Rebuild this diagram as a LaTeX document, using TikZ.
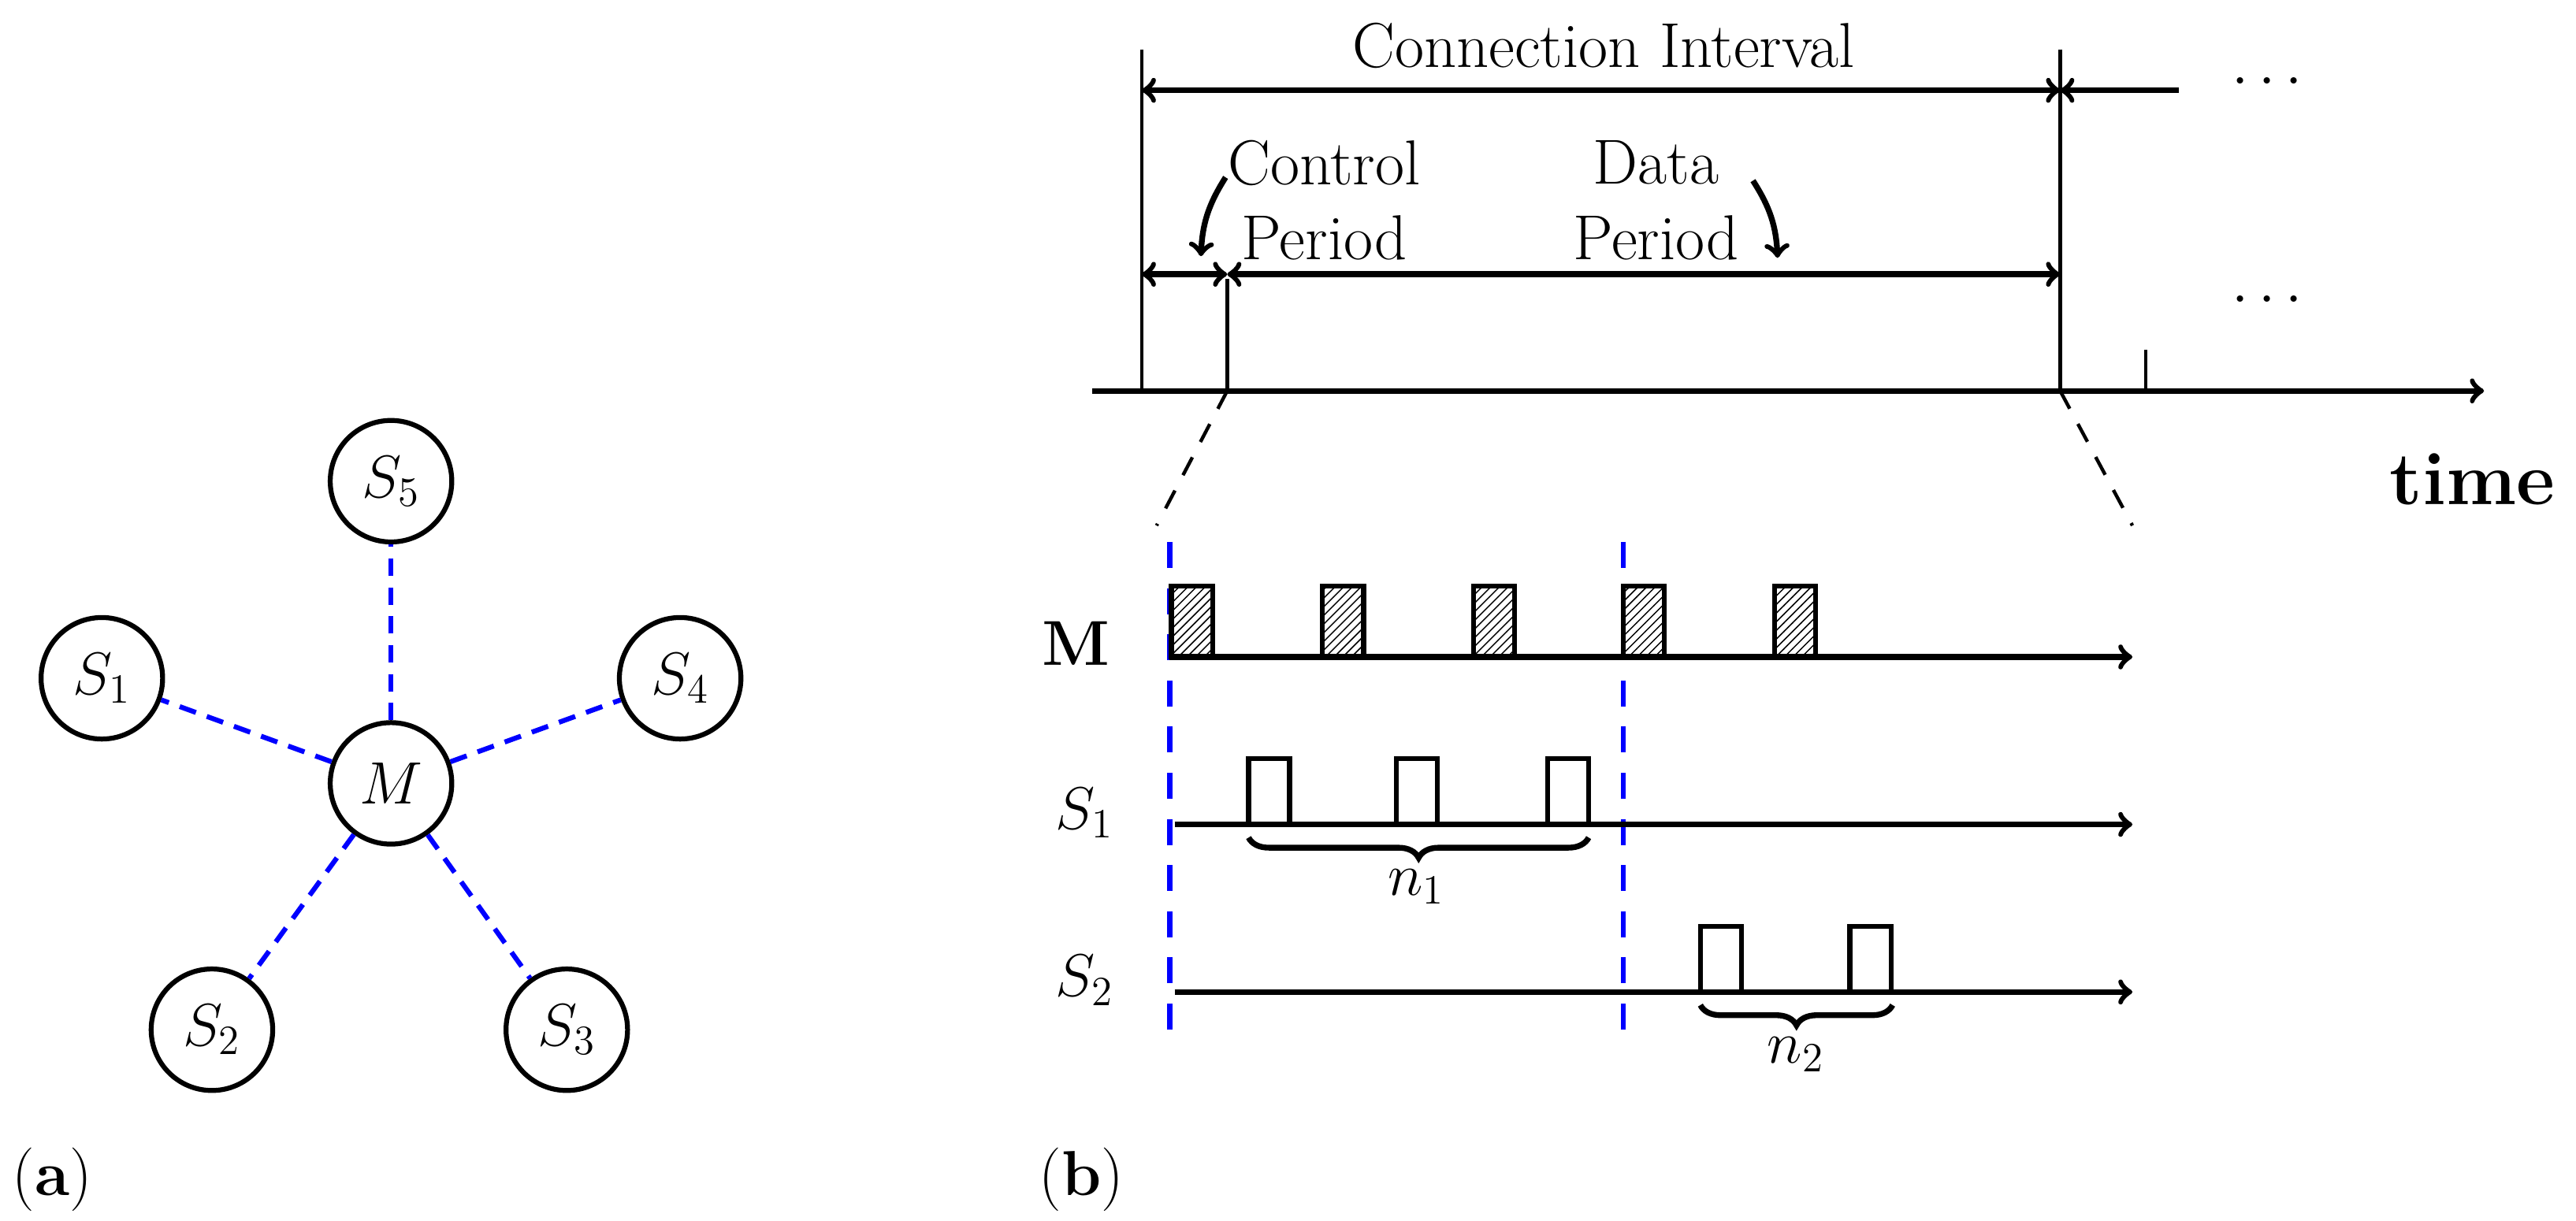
\documentclass[tikz,border=0pt]{standalone}
\usetikzlibrary{patterns,decorations.pathreplacing}
\begin{document}
\begin{tikzpicture}[x=0.02cm,y=-0.02cm,line width=2pt,
  every node/.style={font=\fontsize{22}{26}\selectfont},
  st/.style={circle,draw,line width=1.7pt,minimum size=1.48cm,inner sep=0pt},
  link/.style={blue,dashed,line width=1.7pt,dash pattern=on 6pt off 4pt},
  sep/.style={blue,dashed,line width=1.7pt,dash pattern=on 9pt off 7pt},
  pkt/.style={draw,line width=1.7pt},
  hpkt/.style={draw,line width=1.7pt,pattern=north east lines}]
\useasboundingbox (0,0) rectangle (1568,743);
% (a) star topology
\node[st] (M) at (238,477) {$M$};
\node[st] (S5) at (238,293) {$S_5$};
\node[st] (S1) at (62,413) {$S_1$};
\node[st] (S4) at (414,413) {$S_4$};
\node[st] (S2) at (129,627) {$S_2$};
\node[st] (S3) at (345,627) {$S_3$};
\foreach \s in {S1,S2,S3,S4,S5} \draw[link] (M) -- (\s);
\node[anchor=west] (la) at (0,718) {(\textbf{a})};
\node[anchor=west] (lb) at (625,718) {(\textbf{b})};
% (b) time line
\coordinate (t0) at (665,238);
\coordinate (t1) at (1512,238);
\draw[->] (t0) -- (t1);
\node (time) at (1505,292) {\fontsize{26}{30}\selectfont\textbf{time}};
\draw[line width=1.2pt] (695,30) -- (695,238);
\draw[line width=1.2pt] (747,170) -- (747,238);
\draw[line width=1.2pt] (1254,30) -- (1254,238);
\draw[line width=1.2pt] (1306,213) -- (1306,238);
\coordinate (a1) at (695,55); \coordinate (a2) at (1254,55); \coordinate (a3) at (1326,55);
\draw[<->] (a1) -- (a2);
\draw[<-] (a2) -- (a3);
\node (ci) at (976,28) {Connection Interval};
\node (d1) at (1380,50) {$\cdots$};
\node (d2) at (1380,183) {$\cdots$};
\coordinate (b1) at (695,167); \coordinate (b2) at (747,167); \coordinate (b3) at (1254,167);
\draw[<->] (b1) -- (b2);
\draw[<->] (b2) -- (b3);
\node[align=center] (cp) at (806,122) {Control\\Period};
\node[align=center] (dp) at (1008,122) {Data\\Period};
\draw[->] (746,108) to[bend right=15] (731,156);
\draw[->] (1067,110) to[bend left=15] (1082,157);
\draw[dashed,line width=1.2pt,dash pattern=on 7pt off 6pt] (747,238) -- (704,320);
\draw[dashed,line width=1.2pt,dash pattern=on 7pt off 6pt] (1254,238) -- (1298,320);
% lower timelines
\draw[sep] (712,330) -- (712,628);
\draw[sep] (988,330) -- (988,628);
\node (lm) at (655,392) {\textbf{M}};
\node (ls1) at (660,495) {$S_1$};
\node (ls2) at (660,597) {$S_2$};
\foreach \x in {713,805,897,988,1080} \draw[hpkt] (\x,357) rectangle ++(25,43);
\draw[->] (712,400) -- (1298,400);
\foreach \x in {760,850,942} \draw[pkt] (\x,462) rectangle ++(25,40);
\draw[->] (715,502) -- (1298,502);
\foreach \x in {1035,1126} \draw[pkt] (\x,564) rectangle ++(25,40);
\draw[->] (715,604) -- (1298,604);
\draw[decorate,decoration={brace,mirror,amplitude=7pt}] (760,510) -- (967,510);
\node (n1) at (862,540) {$n_1$};
\draw[decorate,decoration={brace,mirror,amplitude=7pt}] (1035,612) -- (1152,612);
\node (n2) at (1093,642) {$n_2$};
\end{tikzpicture}
\end{document}
